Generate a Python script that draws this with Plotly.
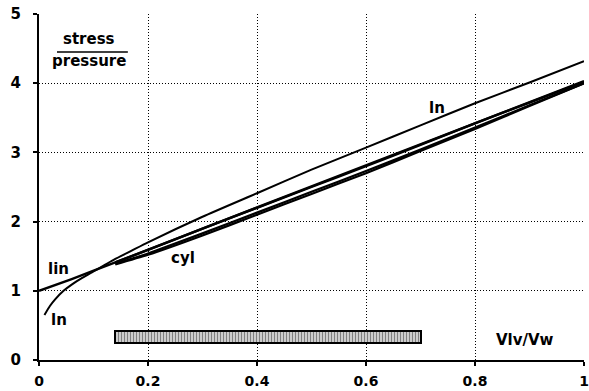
import plotly.graph_objects as go

# ---- data ----
ln_x = [0.01, 0.02, 0.03, 0.045, 0.06, 0.08, 0.1, 0.12, 0.14, 0.17, 0.2, 0.3, 0.4, 0.5, 0.6, 0.7, 0.8, 0.9, 1.0]
ln_y = [0.65, 0.78, 0.88, 1.00, 1.09, 1.19, 1.28, 1.37, 1.46, 1.58, 1.70, 2.07, 2.41, 2.75, 3.07, 3.39, 3.71, 4.01, 4.32]

lin_x = [0.0, 0.06, 0.14, 0.5, 1.0]
lin_y = [1.0, 1.17, 1.41, 2.51, 4.03]

cyl_x = [0.14, 0.2, 0.3, 0.4, 0.5, 0.6, 0.7, 0.8, 0.9, 1.0]
cyl_a = [1.41, 1.59, 1.90, 2.20, 2.50, 2.80, 3.11, 3.42, 3.72, 4.02]
cyl_b = [1.39, 1.54, 1.83, 2.13, 2.43, 2.73, 3.04, 3.36, 3.68, 4.00]
cyl_c = [1.38, 1.52, 1.80, 2.10, 2.40, 2.70, 3.02, 3.34, 3.67, 4.00]

range_start = [0.14]
range_end = [0.70]
range_y = [0.335]
range_h = [0.17]

x_ticks = [0, 0.2, 0.4, 0.6, 0.8, 1]
x_ticktext = ["0", "0.2", "0.4", "0.6", "0.8", "1"]
y_ticks = [0, 1, 2, 3, 4, 5]

FONT = "DejaVu Sans"

fig = go.Figure()

fig.add_trace(go.Bar(
    y=range_y, x=[e - s for s, e in zip(range_start, range_end)], base=range_start,
    width=range_h, orientation="h",
    marker=dict(color="white", line=dict(color="black", width=2),
                pattern=dict(shape="|", fgcolor="black", bgcolor="white", size=3, solidity=0.6)),
    showlegend=False, hoverinfo="skip"))

for xs, ys, w in [(lin_x, lin_y, 2.4), (cyl_x, cyl_a, 2.4), (cyl_x, cyl_b, 2.2), (cyl_x, cyl_c, 2.2), (ln_x, ln_y, 2.0)]:
    fig.add_trace(go.Scatter(x=xs, y=ys, mode="lines", line=dict(color="black", width=w, shape="spline", smoothing=0.6),
                             showlegend=False, hoverinfo="skip"))

ann_font = dict(family=FONT, size=15, color="black")
labels = [
    ("ln", 0.73, 3.64), ("lin", 0.035, 1.31), ("ln", 0.037, 0.58),
    ("cyl", 0.265, 1.47), ("Vlv/Vw", 0.892, 0.29),
    ("stress", 0.092, 4.64), ("pressure", 0.092, 4.32),
]
for t, x, y in labels:
    fig.add_annotation(x=x, y=y, text="<b>" + t + "</b>", showarrow=False, font=ann_font,
                       xanchor="center", yanchor="middle")

fig.add_shape(type="line", x0=0.033, x1=0.163, y0=4.45, y1=4.45, line=dict(color="black", width=1.5))

common = dict(showgrid=True, gridcolor="black", gridwidth=1, griddash="1px,2px",
              zeroline=False, showline=True, linecolor="black", linewidth=2,
              ticks="outside", ticklen=4, tickwidth=1.5, tickcolor="black", automargin=False,
              ticklabeloverflow="allow")

fig.update_layout(
    width=589, height=391,
    margin=dict(l=39, r=5, t=14, b=31),
    paper_bgcolor="white", plot_bgcolor="white",
    hovermode=False, bargap=0,
    xaxis=dict(range=[0, 1], tickvals=x_ticks, ticktext=x_ticktext, ticklabelstandoff=3,
               tickfont=dict(family=FONT, size=14, color="black", weight="bold"), **common),
    yaxis=dict(range=[0, 5], tickvals=y_ticks, ticklabelstandoff=9,
               tickfont=dict(family=FONT, size=15, color="black", weight="bold"), **common),
    xaxis2=dict(range=[0, 1], overlaying="x", side="bottom", tickvals=x_ticks, showticklabels=False,
                ticks="inside", ticklen=4, tickwidth=1.5, tickcolor="black", showgrid=False,
                zeroline=False, showline=False, automargin=False),
    yaxis2=dict(range=[0, 5], overlaying="y", side="left", tickvals=y_ticks, showticklabels=False,
                ticks="inside", ticklen=4, tickwidth=1.5, tickcolor="black", showgrid=False,
                zeroline=False, showline=False, automargin=False),
)

fig.write_html("out.html")
